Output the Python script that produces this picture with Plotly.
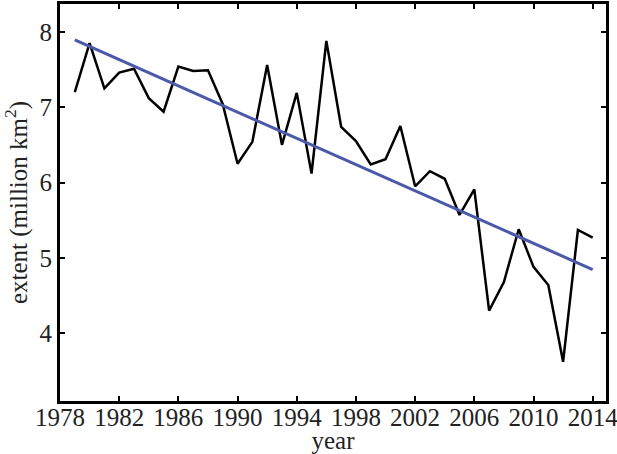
import numpy as np
import plotly.graph_objects as go

# September sea ice extent
years = list(range(1979, 2015))
extent = [7.20, 7.85, 7.25, 7.46, 7.51, 7.12, 6.94, 7.54, 7.48, 7.49,
          7.04, 6.25, 6.54, 7.56, 6.50, 7.19, 6.12, 7.88, 6.74, 6.55,
          6.24, 6.31, 6.75, 5.95, 6.15, 6.05, 5.57, 5.91, 4.30, 4.68,
          5.38, 4.88, 4.64, 3.62, 5.37, 5.27]
x_ticks = [1978, 1982, 1986, 1990, 1994, 1998, 2002, 2006, 2010, 2014]
y_ticks = [4, 5, 6, 7, 8]

# linear trend
coef = np.polyfit(years, extent, 1)
trend = np.polyval(coef, years)

serif = "'Liberation Serif', 'Times New Roman', Times, serif"

fig = go.Figure()
fig.add_trace(go.Scatter(x=years, y=extent, mode='lines',
                         line=dict(color='black', width=2.5), name='extent'))
fig.add_trace(go.Scatter(x=years, y=trend, mode='lines',
                         line=dict(color='#4a59aa', width=3), name='trend'))

axis_common = dict(showline=True, linecolor='black', linewidth=3, mirror='allticks',
                   ticks='inside', ticklen=5, tickwidth=2, tickcolor='black',
                   showgrid=False, zeroline=False, automargin=False,
                   ticklabeloverflow='allow',
                   tickfont=dict(family=serif, size=25, color='#222'))

fig.update_layout(
    width=617, height=454,
    margin=dict(l=60, r=11, t=4, b=53),
    paper_bgcolor='white', plot_bgcolor='white',
    showlegend=False,
    font=dict(family=serif, color='#222'),
    xaxis=dict(range=[1978, 2014.9], tickvals=x_ticks, ticktext=[str(t) for t in x_ticks],
               ticklabelstandoff=-8,
               title=dict(text='year', font=dict(family=serif, size=25), standoff=4), **axis_common),
    yaxis=dict(range=[3.1, 8.37], tickvals=y_ticks,
               title=dict(text='extent (million km<sup>2</sup>)', font=dict(family=serif, size=25), standoff=8),
               **axis_common),
)

# page body has a default margin; drop it so the figure sits at 0,0
fig.write_html("out.html", config={'displayModeBar': False},
               post_script="document.body.style.margin='0';")
